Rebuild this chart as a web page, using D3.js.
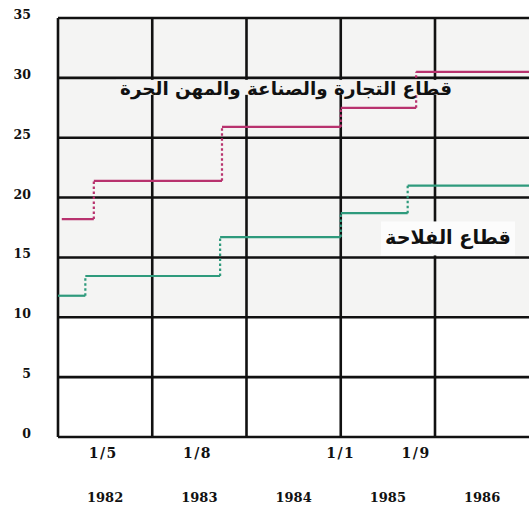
<!DOCTYPE html>
<html>
<head>
<meta charset="utf-8">
<script src="https://cdn.jsdelivr.net/npm/d3@7"></script>
<style>
  body { margin: 0; background: #fff; }
  svg { display: block; }
</style>
</head>
<body>
<div class="chart"></div>
<script>
// data (x = decimal year, y = value)
const years = [1982, 1983, 1984, 1985, 1986];
const yTicks = [0, 5, 10, 15, 20, 25, 30, 35];

const tradeLabel = 'قطاع التجارة والصناعة والمهن الحرة';
const tradeX = [1982.04, 1982.38, 1983.74, 1985.0, 1985.8, 1987.0];
const tradeY = [18.2, 21.4, 25.9, 27.5, 30.5];

const farmLabel = 'قطاع الفلاحة';
const farmX = [1982.0, 1982.29, 1983.72, 1985.0, 1985.71, 1987.0];
const farmY = [11.8, 13.45, 16.7, 18.7, 21.0];

const dateLabels = ['1/5', '1/8', '1/1', '1/9'];
const datePos = [1982.48, 1983.48, 1985.0, 1985.8];

const width = 529, height = 509;
const plotLeft = 58, plotTop = 18, plotBottom = 437;
const paper = '#f4f4f3';

const svg = d3.select('.chart').append('svg')
              .attr('width', width)
              .attr('height', height);

const x = d3.scaleLinear().domain([1982, 1986]).range([plotLeft, 435]);
const y = d3.scaleLinear().domain([0, 35]).range([plotBottom, plotTop]);

// paper tint on the upper part of the grid
svg.append('rect')
   .attr('x', x(1982)).attr('y', y(35))
   .attr('width', width - x(1982)).attr('height', y(10) - y(35))
   .attr('fill', paper);

// grid
const grid = svg.append('g').attr('stroke', '#111').attr('stroke-width', 2.6);
grid.selectAll('.h').data(yTicks).join('line')
    .attr('class', 'h')
    .attr('x1', x(1982)).attr('x2', width)
    .attr('y1', d => y(d)).attr('y2', d => y(d));
grid.selectAll('.v').data(years).join('line')
    .attr('class', 'v')
    .attr('x1', d => x(d)).attr('x2', d => x(d))
    .attr('y1', y(35)).attr('y2', y(0));

// step series
function steps(xs, ys, color) {
  const g = svg.append('g').attr('stroke', color).attr('fill', 'none').attr('stroke-width', 2.2);
  ys.forEach((v, i) => {
    g.append('line')
     .attr('x1', x(xs[i])).attr('x2', x(xs[i + 1]))
     .attr('y1', y(v)).attr('y2', y(v));
    if (i > 0) {
      g.append('line')
       .attr('x1', x(xs[i])).attr('x2', x(xs[i]))
       .attr('y1', y(ys[i - 1])).attr('y2', y(v))
       .attr('stroke-dasharray', '2.5,2.5');
    }
  });
}
steps(tradeX, tradeY, '#b8326e');
steps(farmX, farmY, '#2e9a7c');

// series labels, fitted to the width they take in the picture
function label(text, cx, base, w, bg) {
  svg.append('rect')
     .attr('x', cx - w / 2 - 4).attr('y', bg[0])
     .attr('width', w + 8).attr('height', bg[1] - bg[0])
     .attr('fill', bg[2]);
  const t = svg.append('text')
     .attr('x', cx).attr('y', base)
     .attr('text-anchor', 'middle')
     .attr('font-family', 'DejaVu Sans')
     .attr('font-weight', 'bold')
     .attr('font-size', 16)
     .attr('fill', '#111')
     .text(text);
  const len = t.node().getComputedTextLength();
  t.attr('font-size', 16 * w / len);
}
label(tradeLabel, 286, 95, 332, [y(30) + 2, y(30) + 17, paper]);
label(farmLabel, 448, 244, 126, [y(15) - 36, y(15) - 2, '#fcfcfc']);

// y axis labels
svg.append('g').selectAll('text').data(yTicks).join('text')
   .attr('x', 31).attr('y', d => y(d) + 1)
   .attr('text-anchor', 'end')
   .attr('font-family', 'DejaVu Serif')
   .attr('font-weight', 'bold')
   .attr('font-size', 12.5)
   .attr('fill', '#111')
   .text(d => d);

// date labels under the axis
svg.append('g').selectAll('text').data(dateLabels).join('text')
   .attr('x', (d, i) => x(datePos[i]))
   .attr('y', 458)
   .attr('text-anchor', 'middle')
   .attr('font-family', 'DejaVu Serif')
   .attr('font-weight', 'bold')
   .attr('font-size', 14)
   .attr('letter-spacing', 1.5)
   .attr('fill', '#111')
   .text(d => d);

// year labels centred in their columns
svg.append('g').selectAll('text').data(years).join('text')
   .attr('x', d => x(d + 0.5))
   .attr('y', 502)
   .attr('text-anchor', 'middle')
   .attr('font-family', 'DejaVu Serif')
   .attr('font-weight', 'bold')
   .attr('font-size', 13)
   .attr('fill', '#111')
   .text(d => d);
</script>
</body>
</html>
